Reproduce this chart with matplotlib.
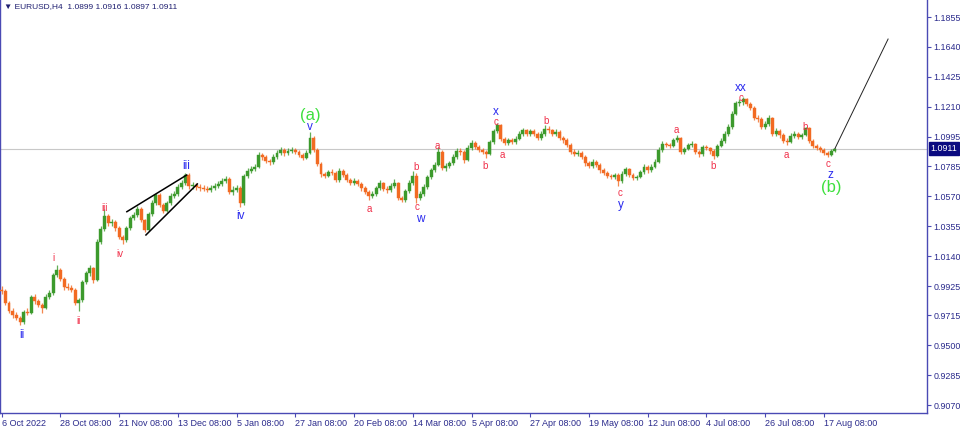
import matplotlib
matplotlib.use("Agg")
import matplotlib.pyplot as plt
import matplotlib.transforms as mtransforms

plt.rcParams['font.family'] = ['Liberation Sans', 'DejaVu Sans']

# ---------------- data (daily aggregation of EURUSD H4) -------------
first_open = 0.9899
closes = [
    0.9891, 0.9805, 0.9747, 0.9718, 0.9697, 0.9668, 0.9740, 0.9733, 0.9848, 0.9819,
    0.9790, 0.9769, 0.9848, 0.9876, 1.0005, 1.0041, 0.9977, 0.9919, 0.9912, 0.9898,
    0.9805, 0.9826, 0.9955, 1.0019, 1.0055, 0.9969, 1.0242, 1.0335, 1.0428, 1.0378,
    1.0385, 1.0342, 1.0278, 1.0256, 1.0342, 1.0414, 1.0435, 1.0478, 1.0399, 1.0328,
    1.0443, 1.0521, 1.0579, 1.0507, 1.0464, 1.0521, 1.0572, 1.0586, 1.0636, 1.0665,
    1.0722, 1.0643, 1.0650, 1.0636, 1.0629, 1.0622, 1.0615, 1.0629, 1.0643, 1.0658,
    1.0679, 1.0693, 1.0600, 1.0615, 1.0629, 1.0521, 1.0715, 1.0751, 1.0765, 1.0780,
    1.0866, 1.0851, 1.0823, 1.0815, 1.0851, 1.0880, 1.0902, 1.0880, 1.0894, 1.0902,
    1.0887, 1.0866, 1.0844, 1.0880, 1.0988, 1.0902, 1.0801, 1.0729, 1.0715, 1.0744,
    1.0736, 1.0686, 1.0751, 1.0722, 1.0686, 1.0665, 1.0679, 1.0658, 1.0629, 1.0600,
    1.0572, 1.0586, 1.0629, 1.0665, 1.0622, 1.0615, 1.0643, 1.0665, 1.0557, 1.0543,
    1.0607, 1.0665, 1.0715, 1.0557, 1.0586, 1.0636, 1.0708, 1.0758, 1.0794, 1.0887,
    1.0772, 1.0787, 1.0808, 1.0851, 1.0894, 1.0887, 1.0830, 1.0916, 1.0952, 1.0923,
    1.0902, 1.0887, 1.0873, 1.0959, 1.1038, 1.1081, 1.0981, 1.0952, 1.0973, 1.0959,
    1.0981, 1.1016, 1.1045, 1.1016, 1.1038, 1.1016, 1.0988, 1.1016, 1.1052, 1.1045,
    1.1016, 1.1031, 1.0988, 1.0973, 1.0938, 1.0887, 1.0873, 1.0880, 1.0851, 1.0808,
    1.0787, 1.0815, 1.0794, 1.0758, 1.0736, 1.0715, 1.0708, 1.0722, 1.0679, 1.0729,
    1.0765, 1.0722, 1.0701, 1.0708, 1.0744, 1.0780, 1.0758, 1.0780, 1.0815, 1.0902,
    1.0945, 1.0938, 1.0930, 1.0973, 1.0988, 1.0887, 1.0909, 1.0938, 1.0945, 1.0887,
    1.0873, 1.0923, 1.0916, 1.0894, 1.0859, 1.0930, 1.0966, 1.1016, 1.1066, 1.1160,
    1.1238, 1.1245, 1.1267, 1.1231, 1.1203, 1.1131, 1.1124, 1.1066, 1.1088, 1.1131,
    1.1016, 1.1038, 1.1009, 1.0966, 1.0959, 1.1002, 1.1016, 1.0995, 1.1009, 1.1059,
    1.0966, 1.0930, 1.0916, 1.0902, 1.0880, 1.0866, 1.0894, 1.0911,
]
highs = [
    0.9925, 0.9905, 0.9820, 0.9765, 0.9740, 0.9712, 0.9755, 0.9770, 0.9865, 0.9870,
    0.9835, 0.9805, 0.9870, 0.9900, 1.0020, 1.0077, 1.0055, 0.9990, 0.9945, 0.9930,
    0.9910, 0.9840, 0.9970, 1.0035, 1.0080, 1.0065, 1.0260, 1.0360, 1.0475, 1.0445,
    1.0410, 1.0400, 1.0355, 1.0290, 1.0360, 1.0430, 1.0455, 1.0500, 1.0490, 1.0410,
    1.0460, 1.0540, 1.0595, 1.0590, 1.0520, 1.0535, 1.0590, 1.0610, 1.0655, 1.0685,
    1.0740, 1.0735, 1.0675, 1.0665, 1.0655, 1.0650, 1.0640, 1.0650, 1.0665, 1.0680,
    1.0700, 1.0715, 1.0705, 1.0640, 1.0650, 1.0640, 1.0730, 1.0770, 1.0785, 1.0800,
    1.0885, 1.0880, 1.0865, 1.0840, 1.0870, 1.0900, 1.0925, 1.0915, 1.0915, 1.0925,
    1.0915, 1.0900, 1.0880, 1.0900, 1.1030, 1.1000, 1.0915, 1.0815, 1.0745, 1.0760,
    1.0765, 1.0750, 1.0770, 1.0765, 1.0735, 1.0700, 1.0700, 1.0695, 1.0670, 1.0640,
    1.0615, 1.0605, 1.0645, 1.0685, 1.0675, 1.0640, 1.0665, 1.0690, 1.0675, 1.0575,
    1.0625, 1.0685, 1.0750, 1.0735, 1.0605, 1.0655, 1.0725, 1.0775, 1.0815, 1.0925,
    1.0900, 1.0805, 1.0825, 1.0870, 1.0915, 1.0915, 1.0900, 1.0935, 1.0970, 1.0965,
    1.0940, 1.0915, 1.0900, 1.0975, 1.1055, 1.1095, 1.1090, 1.0995, 1.0990, 1.0985,
    1.1000, 1.1035, 1.1060, 1.1055, 1.1055, 1.1050, 1.1030, 1.1035, 1.1080, 1.1070,
    1.1055, 1.1050, 1.1045, 1.1000, 1.0985, 1.0950, 1.0905, 1.0900, 1.0895, 1.0865,
    1.0820, 1.0835, 1.0830, 1.0805, 1.0770, 1.0750, 1.0730, 1.0740, 1.0735, 1.0750,
    1.0780, 1.0775, 1.0735, 1.0725, 1.0760, 1.0800, 1.0795, 1.0800, 1.0835, 1.0920,
    1.0965, 1.0960, 1.0955, 1.0990, 1.1010, 1.0995, 1.0925, 1.0955, 1.0965, 1.0955,
    1.0900, 1.0940, 1.0940, 1.0925, 1.0905, 1.0945, 1.0985, 1.1035, 1.1085, 1.1180,
    1.1255, 1.1265, 1.1280, 1.1275, 1.1245, 1.1215, 1.1150, 1.1135, 1.1110, 1.1150,
    1.1140, 1.1060, 1.1050, 1.1020, 1.0985, 1.1020, 1.1035, 1.1030, 1.1025, 1.1068,
    1.1065, 1.0980, 1.0945, 1.0930, 1.0915, 1.0895, 1.0905, 1.0916,
]
lows = [
    0.9870, 0.9790, 0.9730, 0.9700, 0.9680, 0.9650, 0.9655, 0.9715, 0.9725, 0.9800,
    0.9775, 0.9730, 0.9760, 0.9830, 0.9865, 0.9990, 0.9960, 0.9900, 0.9895, 0.9880,
    0.9790, 0.9750, 0.9815, 0.9940, 1.0000, 0.9950, 0.9960, 1.0225, 1.0320, 1.0360,
    1.0355, 1.0320, 1.0260, 1.0228, 1.0245, 1.0330, 1.0400, 1.0420, 1.0385, 1.0310,
    1.0320, 1.0430, 1.0505, 1.0490, 1.0450, 1.0455, 1.0510, 1.0560, 1.0575, 1.0620,
    1.0650, 1.0625, 1.0625, 1.0615, 1.0610, 1.0605, 1.0600, 1.0600, 1.0615, 1.0630,
    1.0645, 1.0665, 1.0585, 1.0580, 1.0600, 1.0490, 1.0510, 1.0700, 1.0735, 1.0750,
    1.0770, 1.0830, 1.0805, 1.0795, 1.0800, 1.0835, 1.0865, 1.0860, 1.0865, 1.0880,
    1.0870, 1.0850, 1.0830, 1.0835, 1.0870, 1.0885, 1.0785, 1.0710, 1.0700, 1.0705,
    1.0720, 1.0670, 1.0675, 1.0705, 1.0670, 1.0650, 1.0650, 1.0640, 1.0610, 1.0585,
    1.0545, 1.0560, 1.0575, 1.0615, 1.0605, 1.0595, 1.0600, 1.0630, 1.0540, 1.0525,
    1.0530, 1.0595, 1.0650, 1.0520, 1.0540, 1.0575, 1.0625, 1.0695, 1.0745, 1.0785,
    1.0755, 1.0750, 1.0770, 1.0795, 1.0840, 1.0865, 1.0805, 1.0820, 1.0900, 1.0905,
    1.0885, 1.0870, 1.0845, 1.0865, 1.0945, 1.1020, 1.0965, 1.0935, 1.0940, 1.0945,
    1.0945, 1.0970, 1.1005, 1.1000, 1.1005, 1.1000, 1.0970, 1.0975, 1.1005, 1.1025,
    1.1000, 1.1005, 1.0975, 1.0955, 1.0920, 1.0870, 1.0855, 1.0860, 1.0835, 1.0790,
    1.0770, 1.0775, 1.0780, 1.0740, 1.0720, 1.0700, 1.0690, 1.0695, 1.0640, 1.0665,
    1.0715, 1.0705, 1.0685, 1.0685, 1.0700, 1.0730, 1.0740, 1.0745, 1.0770, 1.0805,
    1.0890, 1.0920, 1.0915, 1.0920, 1.0960, 1.0870, 1.0875, 1.0900, 1.0925, 1.0870,
    1.0850, 1.0860, 1.0900, 1.0875, 1.0835, 1.0850, 1.0920, 1.0955, 1.1005, 1.1055,
    1.1150, 1.1220, 1.1225, 1.1215, 1.1185, 1.1115, 1.1105, 1.1050, 1.1050, 1.1075,
    1.1000, 1.1000, 1.0990, 1.0950, 1.0940, 1.0950, 1.0990, 1.0980, 1.0980, 1.1000,
    1.0950, 1.0915, 1.0900, 1.0885, 1.0865, 1.0850, 1.0855, 1.0885,
]
opens = [first_open] + closes[:-1]
days = list(range(len(closes)))

last_price = 1.0911
header = "\u25BC EURUSD,H4  1.0899 1.0916 1.0897 1.0911"

x_tick_days = [0, 16, 32, 48, 64, 80, 96, 112, 128, 144, 160, 176, 192, 208, 224]
x_tick_labels = ["6 Oct 2022", "28 Oct 08:00", "21 Nov 08:00", "13 Dec 08:00",
                 "5 Jan 08:00", "27 Jan 08:00", "20 Feb 08:00", "14 Mar 08:00",
                 "5 Apr 08:00", "27 Apr 08:00", "19 May 08:00", "12 Jun 08:00",
                 "4 Jul 08:00", "26 Jul 08:00", "17 Aug 08:00"]
y_ticks = [1.1855, 1.1640, 1.1425, 1.1210, 1.0995, 1.0785, 1.0570, 1.0355,
           1.0140, 0.9925, 0.9715, 0.9500, 0.9285, 0.9070]

# wedge trend lines (day, price)
wedge_upper = [(34.1, 1.0459), (50.4, 1.0722)]
wedge_lower = [(39.3, 1.0292), (53.3, 1.0658)]
# projection line
projection = [(227.0, 1.0911), (241.5, 1.1697)]

RED, BLUE, GREEN = '#f0304a', '#2a2aee', '#3ee03e'
# (text, day, price, colour, fontsize)
wave_labels = [
    ("ii", 5.5, 0.9575, BLUE, 8.5),
    ("i", 14.0, 1.0127, RED, 7),
    ("ii", 20.8, 0.9675, RED, 7),
    ("iii", 27.9, 1.0486, RED, 7),
    ("iv", 32.2, 1.0156, RED, 7),
    ("iii", 50.2, 1.0787, BLUE, 8.5),
    ("iv", 65.2, 1.0428, BLUE, 8.5),
    ("v", 84.0, 1.1066, BLUE, 8.5),
    ("(a)", 84.0, 1.1152, GREEN, 12),
    ("a", 100.1, 1.0478, RED, 7),
    ("b", 112.9, 1.0780, RED, 7),
    ("c", 113.2, 1.0490, RED, 7),
    ("w", 114.0, 1.0410, BLUE, 8.5),
    ("a", 118.6, 1.0930, RED, 7),
    ("b", 131.7, 1.0787, RED, 7),
    ("x", 134.7, 1.1176, BLUE, 8.5),
    ("c", 134.7, 1.1100, RED, 7),
    ("a", 136.3, 1.0866, RED, 7),
    ("b", 148.3, 1.1109, RED, 7),
    ("c", 168.5, 1.0595, RED, 7),
    ("y", 168.7, 1.0505, BLUE, 8.5),
    ("a", 183.7, 1.1045, RED, 7),
    ("b", 193.8, 1.0787, RED, 7),
    ("xx", 201.4, 1.1348, BLUE, 8.5),
    ("c", 201.4, 1.1274, RED, 7),
    ("a", 213.7, 1.0866, RED, 7),
    ("b", 218.9, 1.1066, RED, 7),
    ("c", 225.2, 1.0801, RED, 7),
    ("z", 225.7, 1.0722, BLUE, 8.5),
    ("(b)", 226.0, 1.0636, GREEN, 12),
]

# ---------------- figure ----------------
W, H = 960, 429
fig = plt.figure(figsize=(W / 100, H / 100), dpi=100)
fig.patch.set_facecolor('white')
ax = fig.add_axes([0.0, 16 / H, 927 / W, 413 / H])
ax.set_facecolor('white')

ax.set_xlim(-0.46, 252.1)
ax.set_ylim(0.90157, 1.19769)

UP, DOWN = '#3c9a2c', '#f26a22'
for d, o, h, l, c in zip(days, opens, highs, lows, closes):
    col = UP if c >= o else DOWN
    ax.vlines(d, l, h, color=col, lw=0.9, alpha=0.8, zorder=2)
    lo_b, hi_b = min(o, c), max(o, c)
    ax.bar(d, max(hi_b - lo_b, 0.0004), bottom=lo_b, width=0.8,
           color=col, edgecolor=col, lw=0.3, zorder=3)

ax.axhline(last_price, color='#c8c8c8', lw=0.8, zorder=1)

ax.plot([p[0] for p in wedge_upper], [p[1] for p in wedge_upper], color='black', lw=1.1, zorder=4)
ax.plot([p[0] for p in wedge_lower], [p[1] for p in wedge_lower], color='black', lw=1.1, zorder=4)
ax.plot([p[0] for p in projection], [p[1] for p in projection], color='#222222', lw=0.7, zorder=4)

for txt, d, p, col, fs in wave_labels:
    ax.text(d, p, txt, color=col, fontsize=fs, ha='center', va='center', zorder=5)

# axes styling
SPINE = '#4a4ab4'
for s in ['left', 'bottom', 'right']:
    ax.spines[s].set_color(SPINE)
    ax.spines[s].set_linewidth(1.0)
ax.spines['top'].set_visible(False)

ax.yaxis.tick_right()
ax.set_yticks(y_ticks)
ax.set_yticklabels(["%.4f" % v for v in y_ticks])
ax.tick_params(axis='y', colors=SPINE, labelcolor='#2a2a8c', labelsize=6.4,
               length=3, width=0.8, pad=1.5)
ax.set_xticks(x_tick_days)
ax.set_xticklabels(x_tick_labels)
ax.tick_params(axis='x', colors=SPINE, labelcolor='#2a2a8c', labelsize=6.5,
               length=3, width=0.8, pad=1.5)
for lbl in ax.get_xticklabels():
    lbl.set_ha('left')

# last-price box
trans = mtransforms.blended_transform_factory(ax.transAxes, ax.transData)
ax.text(1.004, last_price, "1.0911", transform=trans, color='white', fontsize=6.4,
        ha='left', va='center', zorder=6, clip_on=False,
        bbox=dict(boxstyle='square,pad=0.2', fc='#0a0a80', ec='#0a0a80'))

fig.text(4 / W, 1 - 7 / H, header, color='#1e1e70', fontsize=6, ha='left', va='center')

fig.savefig('out.png', dpi=100)
